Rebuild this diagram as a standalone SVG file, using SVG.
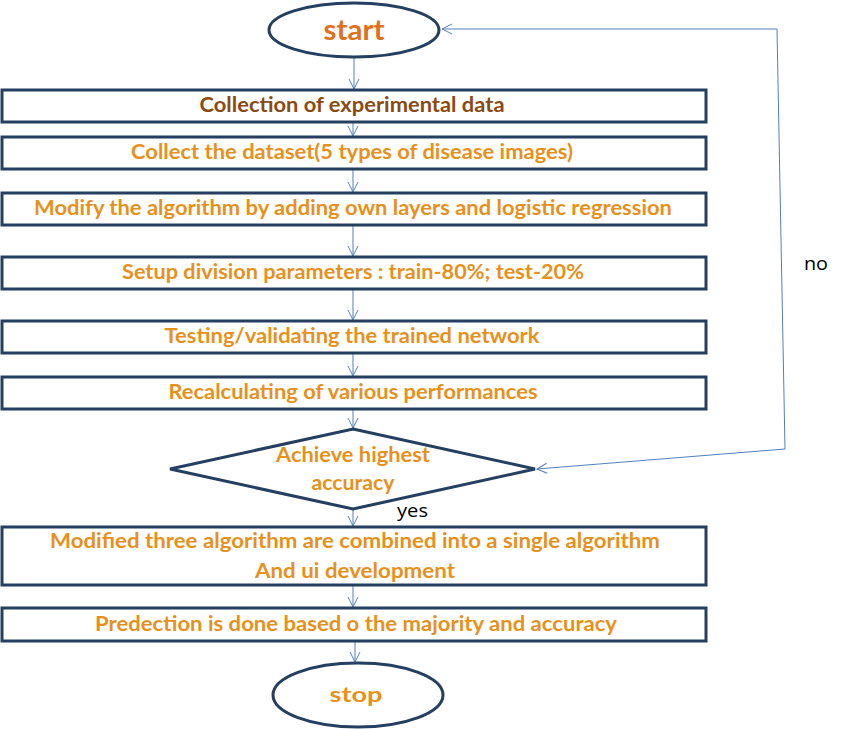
<svg xmlns="http://www.w3.org/2000/svg" width="844" height="729" viewBox="0 0 844 729">
<defs>
<marker id="arr" viewBox="0 0 12 12" refX="11" refY="6" markerWidth="12" markerHeight="12" markerUnits="userSpaceOnUse" orient="auto">
<path d="M1,1 L11,6 L1,11" fill="none" stroke="#4F81BD" stroke-width="1"/>
</marker>
</defs>
<style>
.box{fill:#fff;stroke:#243F60;stroke-width:3}
.t{font-family:Lato,"Open Sans","Liberation Sans",sans-serif;font-weight:bold;font-size:20px;fill:#E8901C;text-anchor:middle}
.c{fill:none;stroke:#4F81BD;stroke-width:1;marker-end:url(#arr)}
.lbl{font-family:"Open Sans","Liberation Sans",sans-serif;font-size:19px;fill:#000}
</style>
<rect width="844" height="729" fill="#fff"/>
<g id="connectors">
<line class="c" x1="354" y1="57" x2="354" y2="89"/>
<line class="c" x1="353" y1="123" x2="353" y2="136"/>
<line class="c" x1="353" y1="170" x2="353" y2="192"/>
<line class="c" x1="353" y1="226" x2="353" y2="256"/>
<line class="c" x1="353" y1="290" x2="353" y2="320"/>
<line class="c" x1="353" y1="354" x2="353" y2="376"/>
<line class="c" x1="353" y1="410" x2="353" y2="428"/>
<line class="c" x1="353" y1="510" x2="353" y2="526"/>
<line class="c" x1="353" y1="586" x2="353" y2="607"/>
<line class="c" x1="355" y1="642" x2="355" y2="662"/>
<polyline class="c" points="785,449 777,29 442,29"/>
<line class="c" x1="785" y1="449" x2="537" y2="469"/>
<text class="lbl" x="804" y="270" textLength="24" lengthAdjust="spacingAndGlyphs">no</text>
<text class="lbl" x="397" y="517" textLength="31" lengthAdjust="spacingAndGlyphs">yes</text>
</g>
<g id="start">
<ellipse cx="354" cy="30" rx="85" ry="27" fill="#fff" stroke="#243F60" stroke-width="3"/>
<text class="t" x="354" y="40" style="font-size:28px;fill:#E06F1E" textLength="61" lengthAdjust="spacingAndGlyphs">start</text>
</g>
<g id="n1">
<rect class="box" x="2" y="90" width="704" height="32"/>
<text class="t" x="352" y="112" style="fill:#8A4A12" textLength="305" lengthAdjust="spacingAndGlyphs">Collection of experimental data</text>
</g>
<g id="n2">
<rect class="box" x="2" y="137" width="704" height="32"/>
<text class="t" x="352" y="159" textLength="442" lengthAdjust="spacingAndGlyphs">Collect the dataset(5 types of disease images)</text>
</g>
<g id="n3">
<rect class="box" x="2" y="193" width="704" height="32"/>
<text class="t" x="353" y="215" textLength="638" lengthAdjust="spacingAndGlyphs">Modify the algorithm by adding own layers and logistic regression</text>
</g>
<g id="n4">
<rect class="box" x="2" y="257" width="704" height="32"/>
<text class="t" x="353" y="279" textLength="462" lengthAdjust="spacingAndGlyphs">Setup division parameters : train-80%; test-20%</text>
</g>
<g id="n5">
<rect class="box" x="2" y="321" width="704" height="32"/>
<text class="t" x="352" y="343" textLength="375" lengthAdjust="spacingAndGlyphs">Testing/validating the trained network</text>
</g>
<g id="n6">
<rect class="box" x="2" y="377" width="704" height="32"/>
<text class="t" x="353" y="399" textLength="369" lengthAdjust="spacingAndGlyphs">Recalculating of various performances</text>
</g>
<g id="decision">
<polygon points="353,429 535,469 353,509 170,469" fill="#fff" stroke="#243F60" stroke-width="3"/>
<text class="t" x="353" y="462" textLength="154" lengthAdjust="spacingAndGlyphs">Achieve highest</text>
<text class="t" x="353" y="490" textLength="83" lengthAdjust="spacingAndGlyphs">accuracy</text>
</g>
<g id="n7">
<rect class="box" x="2" y="527" width="704" height="58"/>
<text class="t" x="355" y="548" textLength="610" lengthAdjust="spacingAndGlyphs">Modified three algorithm are combined into a single algorithm</text>
<text class="t" x="355" y="578" textLength="200" lengthAdjust="spacingAndGlyphs">And ui development</text>
</g>
<g id="n8">
<rect class="box" x="2" y="608" width="704" height="33"/>
<text class="t" x="356" y="631" textLength="522" lengthAdjust="spacingAndGlyphs">Predection is done based o the majority and accuracy</text>
</g>
<g id="stop">
<ellipse cx="358" cy="695" rx="85" ry="32" fill="#fff" stroke="#243F60" stroke-width="3"/>
<text class="t" x="356" y="702" textLength="53" lengthAdjust="spacingAndGlyphs">stop</text>
</g>
</svg>
